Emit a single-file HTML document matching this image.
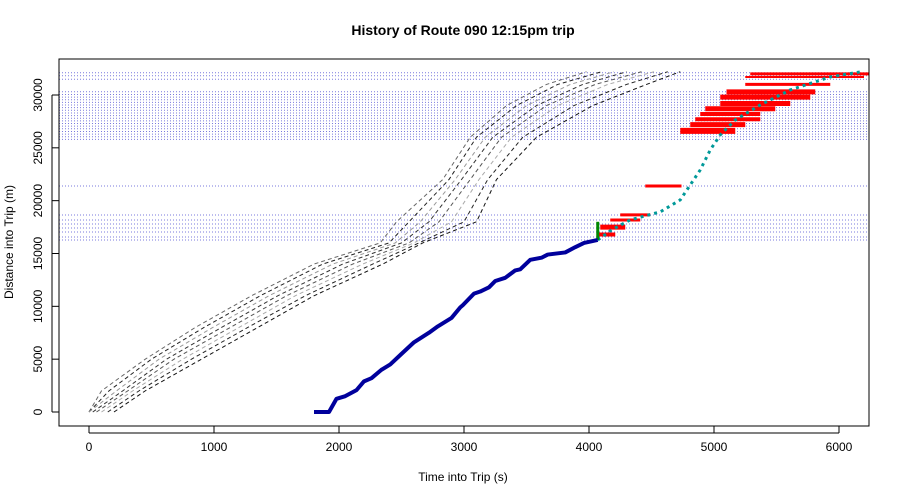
<!DOCTYPE html>
<html><head><meta charset="utf-8"><style>
body{margin:0;background:#fff}
svg{display:block;font-family:"Liberation Sans",Arial,sans-serif}
</style></head><body>
<svg id="chart" width="900" height="500" viewBox="0 0 900 500">
<rect width="900" height="500" fill="#fff"/>
<text x="463" y="35" text-anchor="middle" font-size="14" font-weight="bold">History of Route 090 12:15pm trip</text>
<text x="463" y="481" text-anchor="middle" font-size="12">Time into Trip (s)</text>
<text transform="translate(13,242) rotate(-90)" text-anchor="middle" font-size="12">Distance into Trip (m)</text>
<g id="plot"></g>
<rect x="59" y="59" width="810" height="367" fill="none" stroke="#000" stroke-width="1"/>
<g id="axes"></g>
</svg>
<script>
const xTicks=[0,1000,2000,3000,4000,5000,6000];
const yTicks=[0,5000,10000,15000,20000,25000,30000];
const stopDist=[32110,31826,31485,30311,30050,29800,29550,29300,29050,28800,28550,28300,28050,27800,27550,27300,27050,26800,26550,26300,26050,25800,21390,18640,18170,17790,17410,17030,16560,16280];
// historical runs: distances and times per run
const runDist=[0,2000,5000,8000,11000,14000,16000,18000,22000,26000,29000,31000,32200];
const runTimes=[
[0,100,450,850,1300,1800,2330,2460,2830,3050,3340,3660,3980],
[0,160,500,920,1370,1870,2400,2560,2880,3100,3420,3750,4100],
[0,220,560,990,1440,1950,2450,2650,2930,3170,3500,3850,4200],
[30,270,620,1060,1510,2030,2500,2720,2980,3230,3580,3950,4300],
[60,310,680,1130,1580,2110,2560,2800,3050,3300,3660,4050,4420],
[100,350,750,1200,1650,2190,2600,2900,3120,3380,3750,4150,4520],
[150,400,820,1270,1730,2270,2640,3000,3190,3470,3880,4300,4630],
[200,450,900,1350,1800,2350,2670,3100,3260,3580,4030,4460,4730]];
const runColors=["#666","#222","#999","#333","#555","#aaa","#222","#111"];
const busTimes=[1800,1920,1980,2050,2140,2200,2260,2340,2410,2500,2600,2720,2790,2900,2970,2990,3080,3130,3200,3250,3330,3410,3450,3530,3620,3670,3810,3890,3960,4070];
const busDist=[0,0,1250,1500,2070,2900,3200,4000,4500,5500,6600,7500,8100,8900,9900,10100,11200,11400,11800,12400,12700,13400,13500,14400,14600,14900,15100,15600,16000,16280];
const predTimes=[4070,4180,4330,4570,4730,4810,4890,4970,5050,5170,5370,5610,5930,6170];
const predDist=[16280,17230,18180,18940,20070,21490,22910,24800,26220,27640,29060,30480,31710,32190];
const bandStart=[5290,5250,5250,5100,5050,5050,4930,4890,4850,4810,4730,4450,4250,4170,4090,4070];
const bandEnd=[6240,6200,5930,5810,5770,5610,5490,5370,5370,5250,5170,4740,4490,4410,4290,4210];
const bandDist=[32000,31700,31000,30300,29800,29200,28700,28200,27700,27200,26600,21390,18650,18170,17500,16800];
const bandH=[3,2,3,5,5,5,5,4,4,5,6,3,3,3,5,4];
const NS="http://www.w3.org/2000/svg";
const X=t=>89+t*0.125, Y=d=>412-d*0.010567;
const plot=document.getElementById('plot'), axes=document.getElementById('axes');
function mk(tag,a,p){const e=document.createElementNS(NS,tag);for(const k in a)e.setAttribute(k,a[k]);(p||plot).appendChild(e);return e;}
stopDist.forEach(d=>{const e=mk('line',{x1:59,x2:869,y1:Y(d),y2:Y(d),stroke:'#3333cc','stroke-width':1,'stroke-dasharray':'1 2',opacity:0.65});

});
runTimes.forEach((tt,i)=>{const pts=tt.map((t,j)=>X(t)+','+Y(runDist[j])).join(' ');
const e=mk('polyline',{points:pts,fill:'none',stroke:runColors[i],'stroke-width':1,'stroke-dasharray':'4 3'});

});
bandStart.forEach((s,i)=>{const e=mk('line',{x1:X(s),x2:X(bandEnd[i]),y1:Y(bandDist[i]),y2:Y(bandDist[i]),stroke:'#ff0000','stroke-width':bandH[i]});

});
const pred=mk('polyline',{points:predTimes.map((t,i)=>X(t)+','+Y(predDist[i])).join(' '),fill:'none',stroke:'#009999','stroke-width':3,'stroke-dasharray':'3 4'});


const g=mk('line',{x1:X(4070),x2:X(4070),y1:Y(16280),y2:Y(18000),stroke:'#008800','stroke-width':3});


const bus=mk('polyline',{points:busTimes.map((t,i)=>X(t)+','+Y(busDist[i])).join(' '),fill:'none',stroke:'#00009c','stroke-width':4,'stroke-linejoin':'round'});


xTicks.forEach(t=>{mk('line',{x1:X(t),x2:X(t),y1:426,y2:433,stroke:'#000'},axes);
const tx=mk('text',{x:X(t),y:451,'text-anchor':'middle','font-size':12},axes);tx.textContent=t;

});
yTicks.forEach(d=>{mk('line',{x1:52,x2:59,y1:Y(d),y2:Y(d),stroke:'#000'},axes);
const tx=mk('text',{transform:`translate(42,${Y(d)}) rotate(-90)`,'text-anchor':'middle','font-size':12},axes);tx.textContent=d;

});
mk('line',{x1:X(0),x2:X(6000),y1:433,y2:433,stroke:'#000'},axes);
mk('line',{x1:52,x2:52,y1:Y(0),y2:Y(30000),stroke:'#000'},axes);
</script>
</body></html>
